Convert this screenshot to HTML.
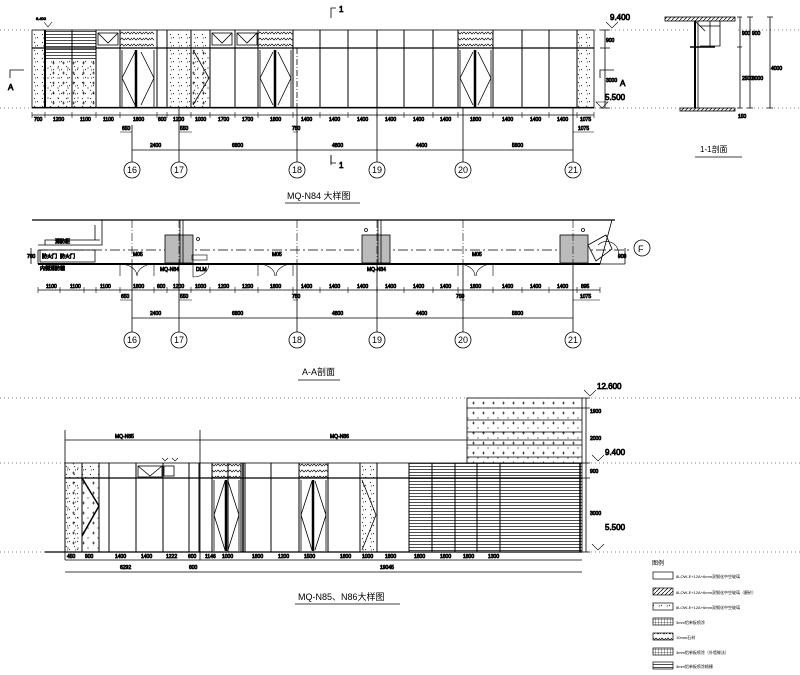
<!DOCTYPE html>
<html><head><meta charset="utf-8"><style>
html,body{margin:0;padding:0;background:#fff}
svg{display:block}
text{font-family:"Liberation Sans","Noto Sans CJK SC",sans-serif;fill:#000}
.t{font-size:5px}
</style></head><body>
<svg width="800" height="675" viewBox="0 0 800 675" xmlns="http://www.w3.org/2000/svg" stroke="#000" fill="none" stroke-width="0.8">
<defs>
<pattern id="dots" width="8" height="8" patternUnits="userSpaceOnUse"><path d="M2 2l1 1M6 5l-1 1M3 6h1" stroke-width="0.7"/></pattern>
<pattern id="plus" width="10" height="10" patternUnits="userSpaceOnUse"><path d="M2 3h3M3.5 1.5v3M7 8h2" stroke-width="0.6"/></pattern>
<pattern id="wave" width="6" height="6" patternUnits="userSpaceOnUse"><path d="M0 4l2-2 2 2 2-2" stroke-width="0.7"/></pattern>
<pattern id="hor" width="4" height="3" patternUnits="userSpaceOnUse"><path d="M0 1.5h4" stroke-width="0.7"/></pattern>
<pattern id="diag" width="4" height="4" patternUnits="userSpaceOnUse"><path d="M0 4l4-4" stroke-width="0.7"/></pattern>
<pattern id="grid" width="3" height="3" patternUnits="userSpaceOnUse"><path d="M0 1.5h3M1.5 0v3" stroke-width="0.3"/></pattern>
</defs>

<!-- dotted level lines -->
<g stroke-dasharray="1 3" stroke-width="0.6">
<path d="M0 30H32M595 30H690M738 30H800M0 108H32M595 108H690M738 108H800"/>
<path d="M0 398H467M583 398H800M0 463H65M583 463H800M0 552H65M583 552H800"/>
</g>

<!-- ===== Top elevation MQ-N84 ===== -->
<rect x="32" y="30" width="562" height="78"/>
<path d="M32 48H594M32 107.5H594" stroke-width="1.2"/>
<rect x="32" y="30" width="13" height="78" fill="url(#dots)" stroke="none"/>
<rect x="45" y="30" width="51" height="30" fill="url(#hor)" stroke="none"/>
<rect x="45" y="60" width="51" height="48" fill="url(#plus)" stroke="none"/>
<rect x="45" y="60" width="51" height="48" fill="url(#dots)" stroke="none"/>
<rect x="120" y="30" width="34" height="18" fill="url(#wave)" stroke="none"/>
<rect x="258" y="30" width="35" height="18" fill="url(#wave)" stroke="none"/>
<rect x="458" y="30" width="35" height="18" fill="url(#wave)" stroke="none"/>
<rect x="167" y="30" width="43" height="78" fill="url(#dots)" stroke="none"/>
<rect x="191" y="48" width="19" height="60" fill="url(#plus)" stroke="none"/>
<rect x="577" y="30" width="17" height="78" fill="url(#dots)" stroke="none"/>
<g stroke-width="1">
<path d="M45 30V108M72 30V108M96 30V108M120 30V108M157 30V108M167 30V108M191 30V108M210 30V108M235 30V108M258 30V108M293 30V108M320 30V108M348 30V108M377 30V108M404 30V108M433 30V108M458 30V108M493 30V108M522 30V108M549 30V108M577 30V108"/>
</g>
<path d="M45 30V108" stroke-width="2"/>
<rect x="98" y="33" width="20" height="12"/><path d="M98 33l10 10 10-10"/>
<rect x="212" y="33" width="20" height="12"/><path d="M212 33l10 10 10-10"/>
<rect x="237" y="33" width="20" height="12"/><path d="M237 33l10 10 10-10"/>
<!-- doors -->
<g>
<path d="M122 50V107M154 50V107"/><path d="M136 50V107" stroke-width="2.5"/>
<path d="M122 78l13-26M122 78l13 27M154 78l-13-26M154 78l-13 27"/>
<path d="M193 50l16 28-16 27"/>
<path d="M260 50V107M291 50V107"/><path d="M275 50V107" stroke-width="2.5"/>
<path d="M260 78l13-26M260 78l13 27M291 78l-13-26M291 78l-13 27"/>
<path d="M460 50V107M491 50V107"/><path d="M475 50V107" stroke-width="2.5"/>
<path d="M460 78l13-26M460 78l13 27M491 78l-13-26M491 78l-13 27"/>
</g>
<path d="M297 48V108" stroke-dasharray="6 2 1 2"/>
<!-- markers -->
<path d="M44 22l4 5 4-5" stroke-width="0.6"/><text x="36" y="20" class="t" style="font-size:4px">9.400</text>
<path d="M331 18V8h5M331 165V155" stroke-width="0.8"/><path d="M331 155v8h5"/>
<text x="339" y="12" style="font-size:8px">1</text><text x="339" y="168" style="font-size:8px">1</text>
<path d="M10 78V70h14M600 78V70h14" stroke-width="0.8"/>
<text x="8" y="90" style="font-size:8px">A</text><text x="620" y="86" style="font-size:8px">A</text>
<path d="M596 102l6 6 6-6z" stroke-width="0.6"/><text x="605" y="100" style="font-size:8px">5.500</text>
<path d="M606 22l6 6 6-6" stroke-width="0.6"/><text x="610" y="20" style="font-size:8px">9.400</text>
<path d="M605 30V108M600 30h10M600 48h10M600 108h10"/>
<text x="606" y="42" class="t">900</text><text x="606" y="82" class="t">3000</text>
<!-- dims -->
<path d="M32 115H594"/>
<g stroke-width="0.6"><path d="M32 112v6M45 112v6M72 112v6M96 112v6M120 112v6M157 112v6M167 112v6M191 112v6M210 112v6M235 112v6M258 112v6M293 112v6M320 112v6M348 112v6M377 112v6M404 112v6M433 112v6M458 112v6M493 112v6M522 112v6M549 112v6M577 112v6M594 112v6"/></g>
<g class="t"><text x="34" y="121">700</text><text x="53" y="121">1200</text><text x="80" y="121">1100</text><text x="103" y="121">1100</text><text x="133" y="121">1800</text><text x="158" y="121">600</text><text x="173" y="121">1200</text><text x="195" y="121">1000</text><text x="218" y="121">1700</text><text x="242" y="121">1700</text><text x="270" y="121">1800</text><text x="301" y="121">1400</text><text x="329" y="121">1400</text><text x="357" y="121">1400</text><text x="385" y="121">1400</text><text x="413" y="121">1400</text><text x="440" y="121">1400</text><text x="470" y="121">1800</text><text x="502" y="121">1400</text><text x="530" y="121">1400</text><text x="557" y="121">1400</text><text x="580" y="121">1075</text></g>
<path d="M120 132H132M179 132H192M293 132H298M573 132H594" stroke-width="0.6"/>
<g class="t"><text x="122" y="130">650</text><text x="180" y="130">550</text><text x="292" y="130">750</text><text x="578" y="130">1075</text></g>
<path d="M132 150H573"/>
<g class="t"><text x="150" y="147">2400</text><text x="232" y="147">6800</text><text x="332" y="147">4800</text><text x="416" y="147">4400</text><text x="512" y="147">5600</text></g>
<g stroke-width="0.8"><path d="M132 125V162M179 108V162M297 108V162M377 108V162M463 108V162M573 108V162"/></g>
<g><circle cx="132" cy="170" r="8"/><circle cx="179" cy="170" r="8"/><circle cx="297" cy="170" r="8"/><circle cx="377" cy="170" r="8"/><circle cx="463" cy="170" r="8"/><circle cx="573" cy="170" r="8"/></g>
<g style="font-size:9px" text-anchor="middle"><text x="132" y="173" stroke="none">16</text><text x="179" y="173" stroke="none">17</text><text x="297" y="173" stroke="none">18</text><text x="377" y="173" stroke="none">19</text><text x="463" y="173" stroke="none">20</text><text x="573" y="173" stroke="none">21</text></g>
<text x="287" y="199" stroke="none" style="font-size:9px">MQ-N84 大样图</text>
<path d="M285 203H360"/>

<!-- 1-1 section -->
<rect x="665" y="17" width="70" height="4" fill="url(#diag)"/>
<path d="M695 21V108" stroke-width="2"/><path d="M698 21V108"/>
<path d="M695 21l10 10M700 26h20V46h-20M710 21v25M720 21v25"/>
<path d="M690 47h25" stroke-width="1.5"/>
<rect x="680" y="108" width="55" height="3" fill="url(#diag)"/>
<path d="M740 17V108M750 17V108M770 17V108M737 17h5M737 47h5M737 108h5M747 17h6M747 108h6M767 17h6M767 108h6"/>
<g class="t"><text x="742" y="35">900</text><text x="742" y="80">2500</text><text x="752" y="35">900</text><text x="752" y="80">3000</text><text x="771" y="70">4000</text><text x="738" y="118">150</text></g>
<text x="700" y="152" stroke="none" style="font-size:8px">1-1剖面</text>
<path d="M695 157H742"/>

<!-- ===== Plan A-A ===== -->
<path d="M32 220H615" stroke-width="1.2"/>
<path d="M38 250H630" stroke-dasharray="10 3 2 3" stroke-width="0.7"/>
<path d="M38 264H600" stroke-width="2"/>
<path d="M38 250V264M31 248V264M38 245H102V220M45 245V240H100M95 225V240"/>
<rect x="40" y="250" width="55" height="12"/>
<g class="t"><text x="55" y="243">消防柜</text><text x="42" y="258">防火门</text><text x="60" y="258">防火门</text><text x="40" y="270">内侧消防箱</text><text x="27" y="258">700</text></g>
<rect x="165" y="235" width="28" height="28" fill="#bbb"/><rect x="362" y="235" width="28" height="28" fill="#bbb"/><rect x="560" y="235" width="28" height="28" fill="#bbb"/>
<path d="M179 220V264M377 220V264M132 220V264M297 220V264M463 220V264M573 220V264" stroke-dasharray="8 2 1 2" stroke-width="0.6"/>
<path d="M180 220V264M183 220V264M378 220V264M381 220V264" stroke-width="0.8"/>
<circle cx="198" cy="239" r="1.5"/><circle cx="366" cy="230" r="1.5"/><circle cx="583" cy="230" r="1.5"/>
<path d="M588 245l18-10 6 14-16 12zM612 220l-12 44"/>
<path d="M598 245a12 12 0 0 1 20 12" stroke-width="0.6"/>
<circle cx="642" cy="248" r="8"/><text x="638" y="252" stroke="none" style="font-size:9px">F</text>
<path d="M600 264h25M625 248v16"/><text x="618" y="258" class="t">900</text>
<!-- doors in plan -->
<g stroke-width="0.6">
<path d="M120 264v12M154 264v12M120 264a17 12 0 0 1 17 12M154 264a17 12 0 0 0 -17 12"/>
<path d="M258 264v12M293 264v12M258 264a17 12 0 0 1 17 12M293 264a17 12 0 0 0 -17 12"/>
<path d="M458 264v12M493 264v12M458 264a17 12 0 0 1 17 12M493 264a17 12 0 0 0 -17 12"/>
<path d="M193 264v13a16 13 0 0 0 16-13"/>
<rect x="192" y="255" width="15" height="5"/>
</g>
<g class="t"><text x="133" y="256">M05</text><text x="272" y="256">M05</text><text x="472" y="256">M05</text><text x="160" y="271">MQ-N84</text><text x="196" y="271">DLM</text><text x="367" y="271">MQ-N84</text></g>
<path d="M38 290H600"/>
<g stroke-width="0.6"><path d="M38 287v6M60 287v6M84 287v6M96 287v6M120 287v6M154 287v6M167 287v6M191 287v6M210 287v6M235 287v6M258 287v6M293 287v6M320 287v6M348 287v6M377 287v6M404 287v6M433 287v6M458 287v6M493 287v6M522 287v6M549 287v6M577 287v6M600 287v6"/></g>
<g class="t"><text x="46" y="288">1100</text><text x="70" y="288">1100</text><text x="100" y="288">1100</text><text x="133" y="288">1800</text><text x="157" y="288">600</text><text x="173" y="288">1200</text><text x="195" y="288">1000</text><text x="218" y="288">1200</text><text x="242" y="288">1200</text><text x="270" y="288">1800</text><text x="301" y="288">1400</text><text x="329" y="288">1400</text><text x="357" y="288">1400</text><text x="385" y="288">1400</text><text x="413" y="288">1400</text><text x="440" y="288">1400</text><text x="470" y="288">1800</text><text x="502" y="288">1400</text><text x="530" y="288">1400</text><text x="557" y="288">1400</text><text x="581" y="288">895</text></g>
<path d="M120 300H132M179 300H192M293 300H298M460 300H465M573 300H600" stroke-width="0.6"/>
<g class="t"><text x="121" y="298">650</text><text x="180" y="298">550</text><text x="292" y="298">750</text><text x="456" y="298">750</text><text x="580" y="298">1075</text></g>
<path d="M132 318H573"/>
<g class="t"><text x="150" y="315">2400</text><text x="232" y="315">6800</text><text x="332" y="315">4800</text><text x="416" y="315">4400</text><text x="512" y="315">5600</text></g>
<path d="M132 264V332M179 264V332M297 264V332M377 264V332M463 264V332M573 264V332" stroke-width="0.8"/>
<g><circle cx="132" cy="340" r="8"/><circle cx="179" cy="340" r="8"/><circle cx="297" cy="340" r="8"/><circle cx="377" cy="340" r="8"/><circle cx="463" cy="340" r="8"/><circle cx="573" cy="340" r="8"/></g>
<g style="font-size:9px" text-anchor="middle"><text x="132" y="343" stroke="none">16</text><text x="179" y="343" stroke="none">17</text><text x="297" y="343" stroke="none">18</text><text x="377" y="343" stroke="none">19</text><text x="463" y="343" stroke="none">20</text><text x="573" y="343" stroke="none">21</text></g>
<text x="302" y="375" stroke="none" style="font-size:9px">A-A剖面</text>
<path d="M298 380H340"/>

<!-- ===== Bottom elevation MQ-N85,N86 ===== -->
<rect x="467" y="398" width="115" height="65" fill="url(#plus)"/>
<path d="M467 408H582M467 420H582M467 432H582M467 445H582M467 457H582"/>
<path d="M65 440H582M65 430V560M200 430V560"/>
<text x="115" y="438" class="t">MQ-N85</text><text x="330" y="438" class="t">MQ-N86</text>
<rect x="65" y="463" width="517" height="89"/>
<path d="M65 478H582" stroke-width="1.2"/>
<path d="M45 552H582" stroke-width="1.2"/>
<rect x="65" y="463" width="17" height="89" fill="url(#dots)" stroke="none"/>
<rect x="65" y="463" width="17" height="89" fill="url(#plus)" stroke="none"/>
<rect x="82" y="478" width="17" height="74" fill="url(#plus)" stroke="none"/>
<rect x="82" y="463" width="17" height="15" fill="url(#dots)" stroke="none"/>
<rect x="212" y="463" width="29" height="15" fill="url(#wave)" stroke="none"/>
<rect x="299" y="463" width="29" height="15" fill="url(#wave)" stroke="none"/>
<rect x="360" y="463" width="17" height="89" fill="url(#dots)" stroke="none"/>
<rect x="409" y="463" width="173" height="89" fill="url(#hor)" stroke="none"/>
<g stroke-width="1"><path d="M82 463V552M99 463V552M109 463V552M136 463V552M163 463V552M189 463V552M199 463V552M212 463V552M228 463V552M241 463V552M245 463V552M271 463V552M299 463V552M328 463V552M360 463V552M377 463V552M409 463V552M432 463V552M455 463V552M477 463V552M500 463V552"/></g>
<path d="M82 478l17 28-17 30M243 463V552M580 463V552" stroke-width="1.5"/>
<rect x="138" y="466" width="24" height="11"/><path d="M138 466l12 10 12-10"/>
<rect x="164" y="466" width="10" height="10"/>
<path d="M162 458l3 3 3-3M172 458l3 3 3-3" stroke-width="0.6"/>
<path d="M214 480V551M239 480V551M301 480V551M326 480V551"/><path d="M226 480V551M313 480V551" stroke-width="2.5"/>
<path d="M214 515l11-34M214 515l11 35M239 515l-11-34M239 515l-11 35M301 515l11-34M301 515l11 35M326 515l-11-34M326 515l-11 35"/>
<path d="M362 480l14 35-14 35"/>
<path d="M586 398V552M582 398h8M582 408h8M582 463h8M582 478h8M582 552h8"/>
<g class="t"><text x="590" y="413">1900</text><text x="590" y="440">2000</text><text x="590" y="473">900</text><text x="590" y="515">3000</text></g>
<path d="M584 390l6 6 6-6" stroke-width="0.6"/><text x="597" y="389" style="font-size:8px">12.600</text>
<path d="M592 455l6 6 6-6" stroke-width="0.6"/><text x="605" y="455" style="font-size:8px">9.400</text>
<path d="M592 544l6 6 6-6" stroke-width="0.6"/><text x="605" y="530" style="font-size:8px">5.500</text>
<path d="M65 560H582M65 572H582"/>
<g class="t"><text x="67" y="558">450</text><text x="85" y="558">900</text><text x="115" y="558">1400</text><text x="141" y="558">1400</text><text x="166" y="558">1222</text><text x="188" y="558">600</text><text x="205" y="558">1146</text><text x="222" y="558">1000</text><text x="252" y="558">1800</text><text x="278" y="558">1200</text><text x="304" y="558">1500</text><text x="340" y="558">1800</text><text x="362" y="558">1000</text><text x="385" y="558">1800</text><text x="414" y="558">1800</text><text x="440" y="558">1800</text><text x="463" y="558">1800</text><text x="488" y="558">1300</text><text x="120" y="569">6292</text><text x="189" y="569">600</text><text x="380" y="569">19045</text></g>
<text x="298" y="600" stroke="none" style="font-size:9px">MQ-N85、N86大样图</text>
<path d="M295 604H400"/>

<!-- legend -->
<text x="652" y="565" stroke="none" style="font-size:6px">图例</text>
<g stroke-width="0.7">
<rect x="653" y="572" width="20" height="7"/>
<rect x="653" y="588" width="20" height="7" fill="url(#diag)"/>
<rect x="653" y="603" width="20" height="7" fill="url(#dots)"/>
<rect x="653" y="618" width="20" height="7" fill="url(#grid)"/>
<rect x="653" y="633" width="20" height="7" fill="url(#wave)"/>
<rect x="653" y="648" width="20" height="7" fill="url(#grid)"/>
<rect x="653" y="662" width="20" height="7" fill="url(#hor)"/>
</g>
<g style="font-size:4px" stroke="none">
<text x="676" y="578">8LOW-E+12A+6mm双钢化中空玻璃</text>
<text x="676" y="594">8LOW-E+12A+6mm双钢化中空玻璃（磨砂）</text>
<text x="676" y="609">8LOW-E+12A+6mm双钢化中空玻璃</text>
<text x="676" y="624">3mm铝单板喷涂</text>
<text x="676" y="639">10mm石材</text>
<text x="676" y="654">3mm铝单板喷涂（外墙做法）</text>
<text x="676" y="668">3mm铝单板喷涂格栅</text>
</g>
</svg>
</body></html>
